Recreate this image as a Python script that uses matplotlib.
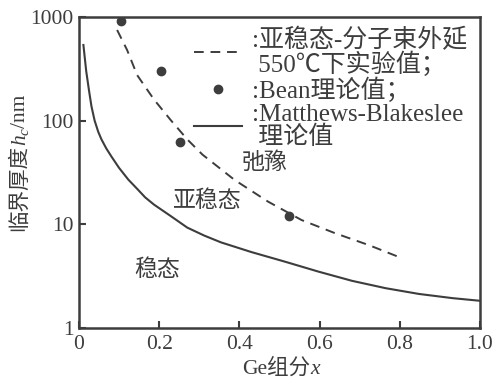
import matplotlib
matplotlib.use("Agg")
import matplotlib.pyplot as plt
from matplotlib.transforms import IdentityTransform

FAM = ['Liberation Serif', 'Noto Sans CJK SC', 'DejaVu Sans']
plt.rcParams['font.family'] = FAM

# Data
mb_x = [0.011, 0.018, 0.025, 0.031, 0.039, 0.048, 0.056, 0.068, 0.081, 0.100, 0.123, 0.145, 0.165, 0.187,
        0.229, 0.27, 0.312, 0.354, 0.43, 0.513, 0.597, 0.681, 0.765, 0.848, 0.932, 1.0]
mb_y = [537, 300, 195, 138, 100, 78, 66, 54, 45, 35, 27, 22, 18.2, 15.5,
        12.0, 9.3, 7.8, 6.7, 5.4, 4.37, 3.5, 2.85, 2.42, 2.13, 1.94, 1.83]

exp_x = [0.095, 0.12, 0.145, 0.187, 0.229, 0.27, 0.308, 0.346, 0.388, 0.471, 0.555, 0.639, 0.723, 0.806]
exp_y = [750, 480, 275, 160, 101, 66, 47, 36, 26.8, 16.6, 11.0, 8.2, 6.3, 4.7]

bean_x = [0.105, 0.2035, 0.252, 0.523]
bean_y = [920, 303, 62.8, 12.0]

xticks = [0, 0.2, 0.4, 0.6, 0.8, 1.0]
xticklabels = ['0', '0.2', '0.4', '0.6', '0.8', '1.0']
yticks = [1, 10, 100, 1000]
yticklabels = ['1', '10', '100', '1000']

legend_labels = [':亚稳态-分子束外延\n 550℃下实验值；', ':Bean理论值；', ':Matthews-Blakeslee\n 理论值']

C = '#3d3d3d'
W, H = 494, 380
fig = plt.figure(figsize=(W / 100, H / 100), dpi=100)
ax = fig.add_axes([79 / W, 1 - 328 / H, (480 - 79) / W, (328 - 17) / H])
ax.set_yscale('log')
ax.set_xlim(0, 1.0)
ax.set_ylim(1, 1000)

l1, = ax.plot(exp_x, exp_y, color=C, lw=1.4, linestyle=(0, (5, 3.5)))
l2, = ax.plot(bean_x, bean_y, 'o', color=C, markersize=6, linestyle='none')
l3, = ax.plot(mb_x, mb_y, color=C, lw=1.5)

ax.set_xticks(xticks)
ax.set_xticklabels(xticklabels)
ax.set_yticks(yticks)
ax.set_yticklabels(yticklabels)
ax.minorticks_off()
ax.tick_params(direction='in', length=5, width=1.5, colors=C, labelsize=15.5)
ax.tick_params(axis='x', pad=5)
ax.tick_params(axis='y', pad=4)
for s in ax.spines.values():
    s.set_linewidth(1.8)
    s.set_color(C)

leg = ax.legend([l1, l2, l3], legend_labels,
                loc='upper left', bbox_to_anchor=((194 - 79) / 401, (328 - 28) / 311),
                frameon=False, fontsize=18,
                handlelength=1.9, handletextpad=0.4, labelspacing=0.04, borderaxespad=0.0,
                borderpad=0.0)
for t in leg.get_texts():
    t.set_color(C)
    t.set_linespacing(0.95)

ax.text(0.462, 39, '弛豫', fontsize=16.5, color=C, ha='center', va='center')
ax.text(0.319, 16.8, '亚稳态', fontsize=16.5, color=C, ha='center', va='center')
ax.text(0.196, 3.63, '稳态', fontsize=16.5, color=C, ha='center', va='center')

# Axis labels built from pieces (mixed CJK / italic / subscript)
renderer = fig.canvas.get_renderer()


def place(pieces, cx, cy, rot=0):
    """pieces: (text, size, style, baseline_shift_px). cx, cy in image pixels (y from top)."""
    arts = []
    for s, size, style, sh in pieces:
        t = fig.text(0, 0, s, fontsize=size, style=style, color=C, family=FAM,
                     rotation=rot, rotation_mode='anchor', ha='left', va='baseline',
                     transform=IdentityTransform())
        arts.append((t, sh))
    lens = []
    for t, sh in arts:
        bb = t.get_window_extent(renderer)
        lens.append(bb.height if rot == 90 else bb.width)
    total = sum(lens)
    yd = H - cy
    if rot == 0:
        pos = cx - total / 2
        for (t, sh), L in zip(arts, lens):
            t.set_position((pos, yd - sh))
            pos += L
    else:
        pos = yd - total / 2
        for (t, sh), L in zip(arts, lens):
            t.set_position((cx + sh, pos))
            pos += L


place([('Ge组分', 15.5, 'normal', 0), ('x', 15.5, 'italic', 0)], 281, 374)
place([('临界厚度', 15.5, 'normal', 0), ('h', 15.5, 'italic', 0), ('c', 11, 'italic', 4),
       ('/nm', 15.5, 'normal', 0)], 25, 163, rot=90)

fig.savefig('out.png', dpi=100, facecolor='white')
